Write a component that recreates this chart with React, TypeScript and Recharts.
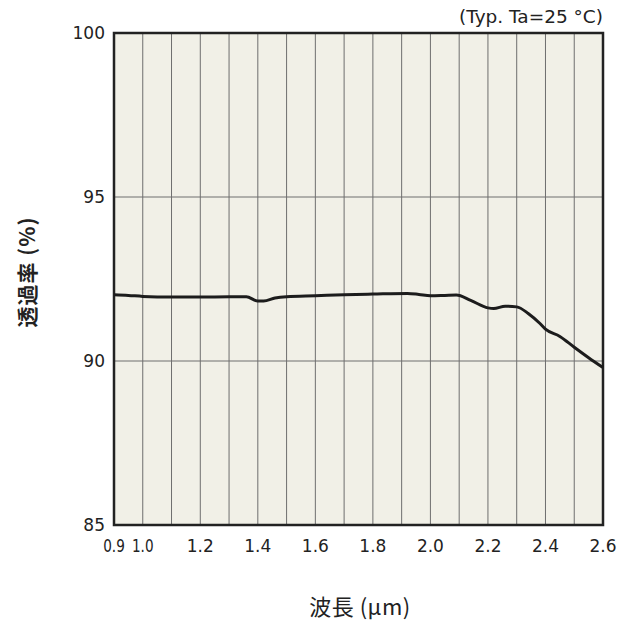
import React from 'react';
import {
  LineChart, Line, XAxis, YAxis, CartesianGrid, ReferenceArea,
} from 'recharts';

// wavelength (µm) and transmittance (%)
const wavelength = [
  0.9, 0.95, 1.0, 1.1, 1.2, 1.3, 1.36, 1.4, 1.42, 1.46, 1.5, 1.6, 1.7, 1.8,
  1.92, 1.96, 2.0, 2.05, 2.09, 2.14, 2.2, 2.22, 2.26, 2.3, 2.34, 2.38, 2.4,
  2.45, 2.5, 2.55, 2.6,
];
const transmittance = [
  92.02, 92.0, 91.97, 91.95, 91.95, 91.96, 91.96, 91.83, 91.83, 91.92, 91.96,
  91.99, 92.02, 92.04, 92.06, 92.03, 91.99, 92.0, 92.01, 91.85, 91.62, 91.6,
  91.67, 91.65, 91.45, 91.15, 90.97, 90.75, 90.42, 90.1, 89.8,
];

const xTicks = [
  0.9, 1.0, 1.1, 1.2, 1.3, 1.4, 1.5, 1.6, 1.7, 1.8, 1.9, 2.0, 2.1, 2.2, 2.3,
  2.4, 2.5, 2.6,
];
const xLabelled = ['0.9', '1.0', '1.2', '1.4', '1.6', '1.8', '2.0', '2.2', '2.4', '2.6'];
const yTicks = [85, 90, 95, 100];

const data = wavelength.map((w, i) => ({ w, t: transmittance[i] }));

const FONT = '"DejaVu Sans", Verdana, sans-serif';
const CJK = '"Noto Sans CJK JP", sans-serif';

const XTick = (props: any) => {
  const { x, y, payload } = props;
  const label = payload.value.toFixed(1);
  if (!xLabelled.includes(label)) return null;
  // the first two labels sit close together, so they are squeezed
  const small = label === '0.9' || label === '1.0';
  return (
    <text
      transform={`translate(${x},${y + 19}) scale(${small ? 0.8 : 1},1)`}
      textAnchor="middle"
      fill="#222"
      fontSize={17}
      fontFamily={FONT}
    >
      {label}
    </text>
  );
};

const App = () => {
  return (
    <div style={{ position: 'absolute', left: 0, top: 0, width: 632, height: 624, background: '#fff' }}>
      <LineChart
        width={632}
        height={624}
        data={data}
        margin={{ top: 33, right: 29, bottom: 59, left: 54 }}
      >
        <CartesianGrid
          stroke="#6e6e6e"
          strokeWidth={1}
          fill="#F1F0E7"
          fillOpacity={1}
        />
        <XAxis
          dataKey="w"
          type="number"
          domain={[0.9, 2.6]}
          ticks={xTicks}
          interval={0}
          axisLine={false}
          tickLine={false}
          tick={<XTick />}
          height={40}
        />
        <YAxis
          type="number"
          domain={[85, 100]}
          ticks={yTicks}
          interval={0}
          axisLine={false}
          tickLine={false}
          width={60}
          tick={{ fill: '#222', fontSize: 17, fontFamily: FONT, dx: -1 }}
        />
        <ReferenceArea
          x1={0.9}
          x2={2.6}
          y1={85}
          y2={100}
          fill="none"
          stroke="#222"
          strokeWidth={2.5}
          ifOverflow="visible"
        />
        <Line
          dataKey="t"
          type="monotone"
          stroke="#1c1c1c"
          strokeWidth={3}
          dot={false}
          isAnimationActive={false}
        />
      </LineChart>
      <div
        style={{
          position: 'absolute', right: 29, top: 6, fontFamily: FONT, fontSize: 18.5,
          color: '#222', whiteSpace: 'nowrap', lineHeight: '22px',
        }}
      >
        (Typ. Ta=25 °C)
      </div>
      <div
        style={{
          position: 'absolute', left: 26, top: 272, transform: 'translate(-50%, -50%) rotate(-90deg)',
          fontFamily: CJK, fontSize: 21, fontWeight: 700, color: '#222', whiteSpace: 'nowrap',
          letterSpacing: 1,
        }}
      >
        透過率 (%)
      </div>
      <div
        style={{
          position: 'absolute', left: 360, top: 605, transform: 'translate(-50%, -50%)',
          fontFamily: CJK, fontSize: 22, color: '#222', whiteSpace: 'nowrap',
          letterSpacing: 0.5,
        }}
      >
        波長 (μm)
      </div>
    </div>
  );
};

export default App;
